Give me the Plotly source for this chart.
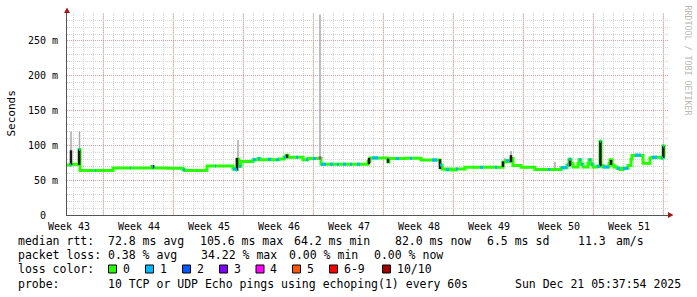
import plotly.graph_objects as go

# ---------------- geometry of the canvas ----------------
W, H = 697, 297
PL, PR, PT, PB = 67, 668, 13, 215   # plot box in pixels

def fx(px):
    return (px - PL) / (PR - PL)

def fy(py):
    return (PB - py) / (PB - PT)

# ---------------- axis data ----------------
x_range = [0, 60.1]          # days since left edge of plot
y_range = [0, 290.2]         # milliseconds
week_labels = ["Week 43", "Week 44", "Week 45", "Week 46", "Week 47",
               "Week 48", "Week 49", "Week 50", "Week 51"]
week_label_days = [0.2, 7.2, 14.2, 21.2, 28.2, 35.2, 42.2, 49.2, 56.2]
week_start_days = [3.63, 10.63, 17.63, 24.63, 31.63, 38.63, 45.63, 52.63, 59.63]
day_grid = [0.63 + k for k in range(60)]
y_ticks = [0, 50, 100, 150, 200, 250]
y_ticktext = ["0\u00a0\u00a0", "50 m", "100 m", "150 m", "200 m", "250 m"]

# ---------------- median rtt (ms) and lost pings per step ----------------
t_days = [0.0, 0.3, 0.4, 1.2, 1.3, 2.8, 2.9, 4.6, 6.3, 6.4,
          8.5, 8.6, 10.1, 11.6, 11.8, 14.0, 14.8, 14.9, 16.6, 16.9,
          17.0, 17.2, 17.4, 18.6, 18.9, 19.1, 19.3, 20.1, 20.4, 20.9,
          21.2, 21.7, 21.9, 22.1, 22.9, 23.1, 23.6, 23.9, 24.1, 24.6,
          24.9, 25.2, 25.4, 25.9, 26.3, 26.6, 27.0, 27.2, 27.6, 27.9,
          28.3, 28.5, 29.0, 29.3, 30.1, 30.3, 30.5, 31.1, 32.1, 32.2,
          32.9, 33.2, 33.8, 34.3, 34.5, 35.4, 36.5, 37.0, 37.3, 37.5,
          37.9, 38.2, 38.5, 38.9, 39.1, 39.8, 41.3, 41.6, 42.8, 43.0,
          43.6, 43.9, 44.2, 44.4, 44.6, 45.4, 46.8, 48.1, 48.3, 49.4,
          50.0, 50.2, 50.4, 50.6, 51.1, 51.2, 51.4, 51.6, 52.1, 52.2,
          52.4, 52.6, 53.0, 53.3, 53.4, 53.6, 54.2, 54.3, 54.5, 54.7,
          55.0, 55.3, 55.6, 56.1, 56.4, 56.5, 56.8, 57.4, 57.6, 58.3,
          58.5, 59.0, 59.4, 59.6, 59.7, 59.8]
median_ms = [72, 72, 73, 94, 64, 64, 64, 67.5, 67.5, 67.5,
             69.5, 67.5, 67, 65, 64, 70.5, 70.5, 70.5, 66, 65,
             80, 70, 77, 79.5, 79.5, 81, 79.5, 80, 79.5, 79.5,
             80.5, 83, 86, 83, 83, 83, 79.5, 79.5, 81, 81,
             81, 82, 73, 73, 73, 73, 73, 73, 73, 73,
             73, 73, 73, 73, 77, 82, 82, 82, 76, 81,
             81, 81, 81.5, 81.5, 81.5, 79, 79, 79, 72, 66,
             65, 66, 64.5, 66, 66, 68.5, 68.5, 68.5, 68.5, 68.5,
             76, 78, 77, 81, 71, 68.5, 65.5, 65.5, 65.5, 68,
             72, 80, 74, 69, 74, 79.5, 73, 69, 74, 79.5,
             73, 69, 70, 106, 71, 69, 74, 79.5, 72, 69,
             67, 65.5, 67, 71, 80, 85.5, 86, 85.5, 74.5, 82,
             83, 83, 82, 99, 83, 83]
lost_pings = [0, 1, 0, 1, 0, 1, 0, 0, 1, 0,
              1, 0, 0, 1, 0, 0, 1, 0, 1, 1,
              0, 1, 0, 1, 0, 1, 0, 1, 0, 1,
              0, 1, 0, 0, 1, 0, 0, 1, 0, 1,
              0, 4, 1, 0, 1, 0, 1, 0, 1, 0,
              1, 0, 1, 0, 0, 0, 1, 0, 0, 0,
              1, 0, 0, 1, 0, 0, 1, 0, 1, 0,
              1, 0, 0, 1, 0, 0, 1, 0, 1, 0,
              0, 1, 0, 0, 0, 0, 0, 1, 0, 1,
              1, 1, 0, 0, 0, 1, 1, 0, 0, 1,
              1, 0, 1, 1, 0, 1, 0, 0, 0, 0,
              1, 0, 1, 0, 0, 0, 1, 0, 0, 0,
              1, 0, 1, 1, 0, 0]

# ---------------- smoke (ping spread), ms ----------------
smoke_days = [0.4, 1.25, 17.1, 25.3, 44.4, 48.8, 42.3, 43.8]
smoke_lo = [72, 72, 70, 82, 78, 65, 68, 76]
smoke_hi = [120, 120, 108, 288, 92, 76, 71, 82]
dark_days = [0.4, 1.22, 8.6, 17.0, 22.0, 30.2, 32.1, 37.3, 43.6, 44.4, 50.3, 53.34, 54.4, 59.63]
dark_lo = [72, 72, 67, 64, 82, 73, 75, 66, 69, 76, 70, 70, 72, 82]
dark_hi = [93, 94, 72, 82, 87, 82, 81, 80, 77, 86, 80, 106, 79, 99]

# ---------------- loss colour legend ----------------
loss_names = ["0", "1", "2", "3", "4", "5", "6-9", "10/10"]
loss_colors = ["#26ff00", "#00b8ff", "#0059ff", "#7e00ff",
               "#ff00ff", "#ff5500", "#ff0000", "#a10000"]
legend_box_px = [108.5, 145.5, 182.5, 219.5, 256, 292.5, 329.5, 382.5]


def loss_index(n):
    if n <= 5:
        return n
    if n < 10:
        return 6
    return 7


fig = go.Figure()

# light smoke
sx, sy = [], []
for d, lo, hi in zip(smoke_days, smoke_lo, smoke_hi):
    sx += [d, d, None]
    sy += [lo, hi, None]
fig.add_trace(go.Scatter(x=sx, y=sy, mode="lines",
                         line=dict(color="#a8a8a8", width=1.5),
                         hoverinfo="skip", showlegend=False))

# median line (loss 0 colour everywhere first)
fig.add_trace(go.Scatter(x=t_days, y=median_ms, mode="lines",
                         line=dict(color=loss_colors[0], width=3, shape="hv"),
                         hoverinfo="skip", showlegend=False))

# dark smoke
dx, dy = [], []
for d, lo, hi in zip(dark_days, dark_lo, dark_hi):
    dx += [d, d, None]
    dy += [lo, hi, None]
fig.add_trace(go.Scatter(x=dx, y=dy, mode="lines",
                         line=dict(color="#1a1a1a", width=2.5),
                         hoverinfo="skip", showlegend=False))

# overlay loss-coloured pieces
for li in range(1, len(loss_colors)):
    xs, ys = [], []
    for i in range(len(t_days) - 1):
        if lost_pings[i] > 0 and loss_index(lost_pings[i]) == li:
            xs += [t_days[i], t_days[i + 1], None]
            ys += [median_ms[i], median_ms[i], None]
    if xs:
        fig.add_trace(go.Scatter(x=xs, y=ys, mode="lines",
                                 line=dict(color=loss_colors[li], width=3),
                                 hoverinfo="skip", showlegend=False))

MONO = "DejaVu Sans Mono"
grid_dash = "1px,1px"
shapes = []
for d in week_start_days:
    shapes.append(dict(type="line", xref="x", yref="paper", x0=d, x1=d, y0=0, y1=1,
                       line=dict(color="#e39a9a", width=1, dash=grid_dash), layer="between"))

# axis arrows
ARROW = "#a01818"
shapes.append(dict(type="path", xref="paper", yref="paper",
                   path=f"M {fx(64)},{fy(13)} L {fx(70)},{fy(13)} L {fx(67)},{fy(7.5)} Z",
                   fillcolor=ARROW, line=dict(width=0), layer="above"))
shapes.append(dict(type="path", xref="paper", yref="paper",
                   path=f"M {fx(668)},{fy(212)} L {fx(668)},{fy(218)} L {fx(673.5)},{fy(215)} Z",
                   fillcolor=ARROW, line=dict(width=0), layer="above"))

# legend colour boxes
for bx, col in zip(legend_box_px, loss_colors):
    shapes.append(dict(type="rect", xref="paper", yref="paper",
                       x0=fx(bx), x1=fx(bx + 8), y0=fy(273), y1=fy(265),
                       fillcolor=col, line=dict(color="#000000", width=1), layer="above"))

annotations = []


def txt(s, px, py, size=11.5, color="#000000", xanchor="left", angle=0):
    annotations.append(dict(text=s.replace(" ", "\u00a0"), x=fx(px), y=fy(py),
                            xref="paper", yref="paper", xanchor=xanchor, yanchor="middle",
                            showarrow=False, textangle=angle,
                            font=dict(family=MONO, size=size, color=color)))


# legend lines
L1 = 241
txt("median rtt:  72.8 ms avg", 16, L1)
txt("105.6 ms max", 198, L1)
txt("64.2 ms min", 292, L1)
txt("82.0 ms now", 393, L1)
txt("6.5 ms sd", 485, L1)
txt("11.3", 576, L1)
txt("am/s", 613.5, L1)
L2 = 255
txt("packet loss: 0.38 % avg", 16, L2)
txt("34.22 % max", 199, L2)
txt("0.00 % min", 287, L2)
txt("0.00 % now", 371.5, L2)
L3 = 269
txt("loss color:", 16, L3)
for bx, name in zip(legend_box_px, loss_names):
    txt(name, bx + 12, L3)
L4 = 283.5
txt("probe:       10 TCP or UDP Echo pings using echoping(1) every 60s", 16, L4)
txt("Sun Dec 21 05:37:54 2025", 512.5, L4)

# axis title and watermark
annotations.append(dict(text="Seconds", x=fx(11), y=fy(113.5), xref="paper", yref="paper",
                        xanchor="center", yanchor="middle", showarrow=False, textangle=-90,
                        font=dict(family=MONO, size=11, color="#000000")))
annotations.append(dict(text="RRDTOOL / TOBI OETIKER", x=fx(687.5), y=fy(60), xref="paper",
                        yref="paper", xanchor="center", yanchor="middle", showarrow=False,
                        textangle=90, font=dict(family=MONO, size=8.3, color="#b8b8b8")))

fig.update_layout(
    width=W, height=H,
    margin=dict(l=PL, r=W - PR, t=PT, b=H - PB, pad=0),
    paper_bgcolor="#ffffff", plot_bgcolor="#ffffff",
    showlegend=False,
    shapes=shapes, annotations=annotations,
    xaxis=dict(range=x_range, tickmode="array", tickvals=week_label_days, ticktext=week_labels,
               showgrid=False, zeroline=False, ticks="",
               showline=True, linecolor="#555555", linewidth=1,
               tickfont=dict(family=MONO, size=10, color="#000000"),
               ticklabelstandoff=2,
               minor=dict(tickmode="array", tickvals=day_grid, showgrid=True,
                          gridcolor="#d4d4d4", griddash=grid_dash, gridwidth=1, ticks="")),
    yaxis=dict(range=y_range, tickmode="array", tickvals=y_ticks, ticktext=y_ticktext,
               showgrid=True, gridcolor="#e39a9a", griddash=grid_dash, gridwidth=1,
               zeroline=False, ticks="", showline=True, linecolor="#555555", linewidth=1,
               tickfont=dict(family=MONO, size=10, color="#000000"),
               ticklabelstandoff=6,
               minor=dict(tick0=0, dtick=10, showgrid=True, gridcolor="#d4d4d4",
                          griddash=grid_dash, gridwidth=1, ticks="")),
)

fig.write_html("out.html")
